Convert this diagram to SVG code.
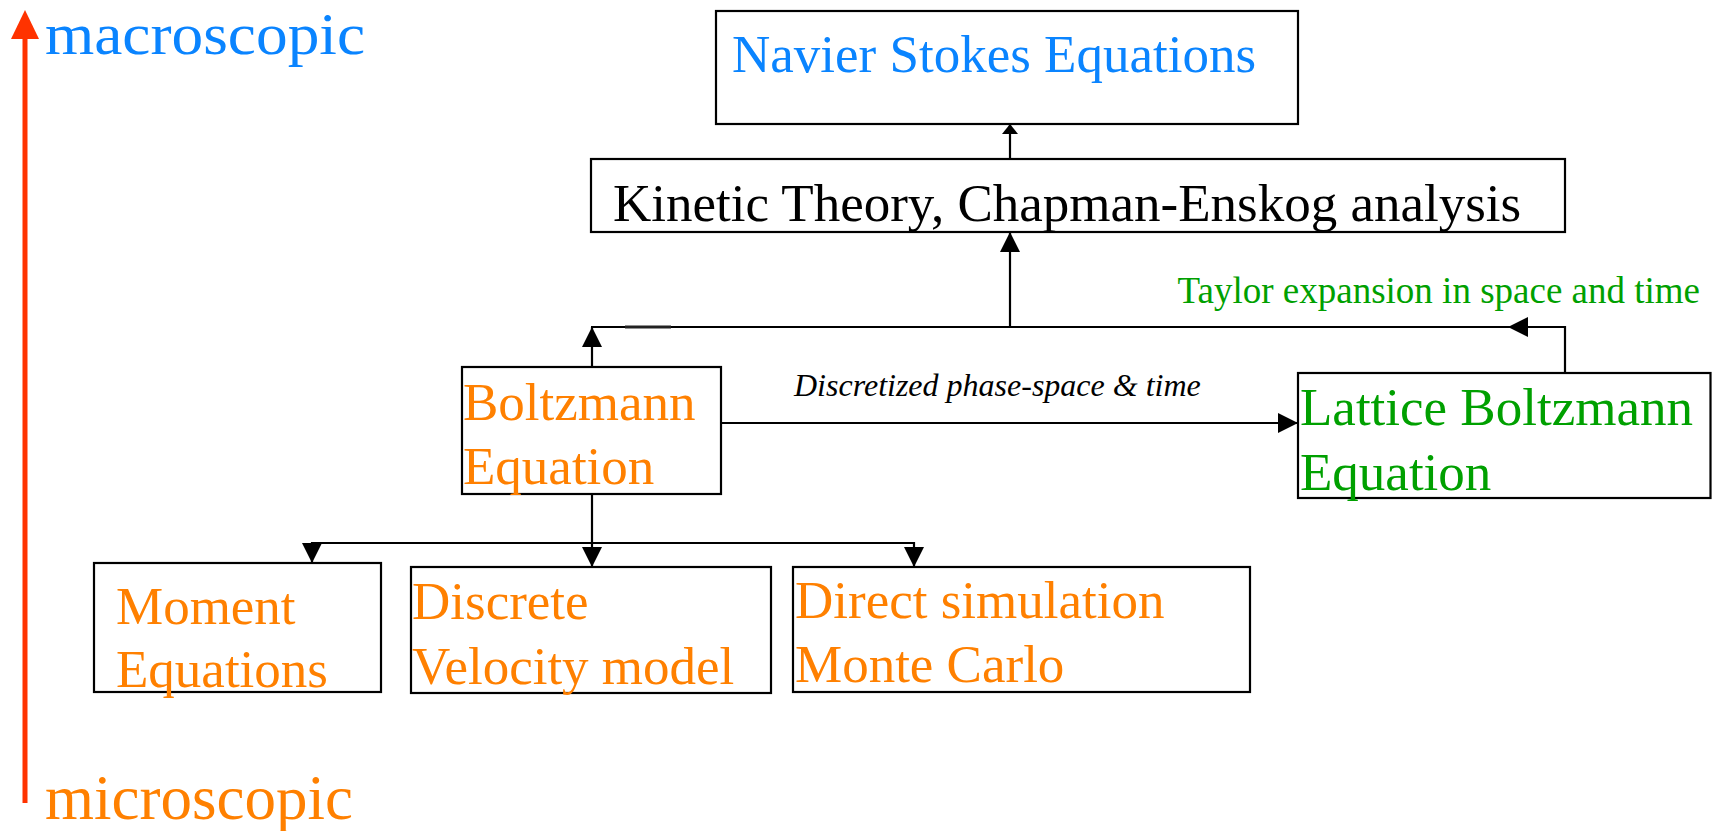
<svg xmlns="http://www.w3.org/2000/svg" width="1712" height="831" viewBox="0 0 1712 831">
<style>
text{font-family:"Liberation Serif","Times New Roman",serif;}
.box{fill:#fff;stroke:#000;stroke-width:2.2;}
.t53{font-size:53px;}
.or{fill:#FF8000;}
.gr{fill:#00A000;}
.bl{fill:#0A84FF;}
.ln{fill:none;stroke:#000;stroke-width:2.2;}
</style>
<defs>
<marker id="ah" markerUnits="userSpaceOnUse" viewBox="0 0 20 20" markerWidth="20" markerHeight="20" refX="20" refY="10" orient="auto">
<path d="M0,0 L20,10 L0,20 z" fill="#000"/>
</marker>
<marker id="ahs" markerUnits="userSpaceOnUse" viewBox="0 0 10 16" markerWidth="10" markerHeight="16" refX="10" refY="8" orient="auto">
<path d="M0,0 L10,8 L0,16 z" fill="#000"/>
</marker>
</defs>
<rect width="1712" height="831" fill="#fff"/>
<g id="scale-axis">
<line x1="25" y1="803" x2="25" y2="38" stroke="#FF3300" stroke-width="5"/>
<path d="M25,10 L39,39 L11,39 z" fill="#FF3300"/>
<text x="45" y="54" font-size="60" textLength="320" lengthAdjust="spacingAndGlyphs" class="bl">macroscopic</text>
<text x="45" y="819" font-size="63" class="or">microscopic</text>
</g>
<g id="connectors">
<line class="ln" x1="1010" y1="159" x2="1010" y2="124" marker-end="url(#ahs)"/>
<line class="ln" x1="1010" y1="327" x2="1010" y2="232" marker-end="url(#ah)"/>
<line class="ln" x1="591" y1="327" x2="1565" y2="327"/>
<line x1="625" y1="327" x2="671" y2="327" stroke="#222" stroke-width="3"/>
<line class="ln" x1="592" y1="367" x2="592" y2="327" marker-end="url(#ah)"/>
<path class="ln" d="M1565,373 V327 H1508" marker-end="url(#ah)"/>
<line class="ln" x1="721" y1="423" x2="1298" y2="423" marker-end="url(#ah)"/>
<line class="ln" x1="592" y1="494" x2="592" y2="543"/>
<line class="ln" x1="311" y1="543" x2="915" y2="543"/>
<line class="ln" x1="312" y1="542" x2="312" y2="563" marker-end="url(#ah)"/>
<line class="ln" x1="592" y1="542" x2="592" y2="567" marker-end="url(#ah)"/>
<line class="ln" x1="914" y1="542" x2="914" y2="567" marker-end="url(#ah)"/>
<text x="794" y="396" font-size="32" font-style="italic" fill="#000">Discretized phase-space &amp; time</text>
<text x="1700" y="303" font-size="37" text-anchor="end" class="gr">Taylor expansion in space and time</text>
</g>
<g id="navier-stokes">
<rect class="box" x="716" y="11" width="582" height="113"/>
<text x="732" y="72" class="t53 bl">Navier Stokes Equations</text>
</g>
<g id="kinetic-theory">
<rect class="box" x="591" y="159" width="974" height="73"/>
<text x="613" y="221" class="t53" fill="#000">Kinetic Theory, Chapman-Enskog analysis</text>
</g>
<g id="boltzmann">
<rect class="box" x="462" y="367" width="259" height="127"/>
<text x="463" y="420" class="t53 or">Boltzmann</text>
<text x="463" y="484" class="t53 or">Equation</text>
</g>
<g id="lattice-boltzmann">
<rect class="box" x="1298" y="373" width="412.5" height="125"/>
<text x="1300" y="425" class="t53 gr">Lattice Boltzmann</text>
<text x="1300" y="490" class="t53 gr">Equation</text>
</g>
<g id="moment">
<rect class="box" x="94" y="563" width="287" height="129"/>
<text x="116" y="624" class="t53 or">Moment</text>
<text x="116" y="687" class="t53 or">Equations</text>
</g>
<g id="discrete-velocity">
<rect class="box" x="411" y="567" width="360" height="126"/>
<text x="412" y="619" class="t53 or">Discrete</text>
<text x="412" y="684" class="t53 or">Velocity model</text>
</g>
<g id="dsmc">
<rect class="box" x="793" y="567" width="457" height="125"/>
<text x="795" y="618" class="t53 or">Direct simulation</text>
<text x="795" y="682" class="t53 or">Monte Carlo</text>
</g>
</svg>
